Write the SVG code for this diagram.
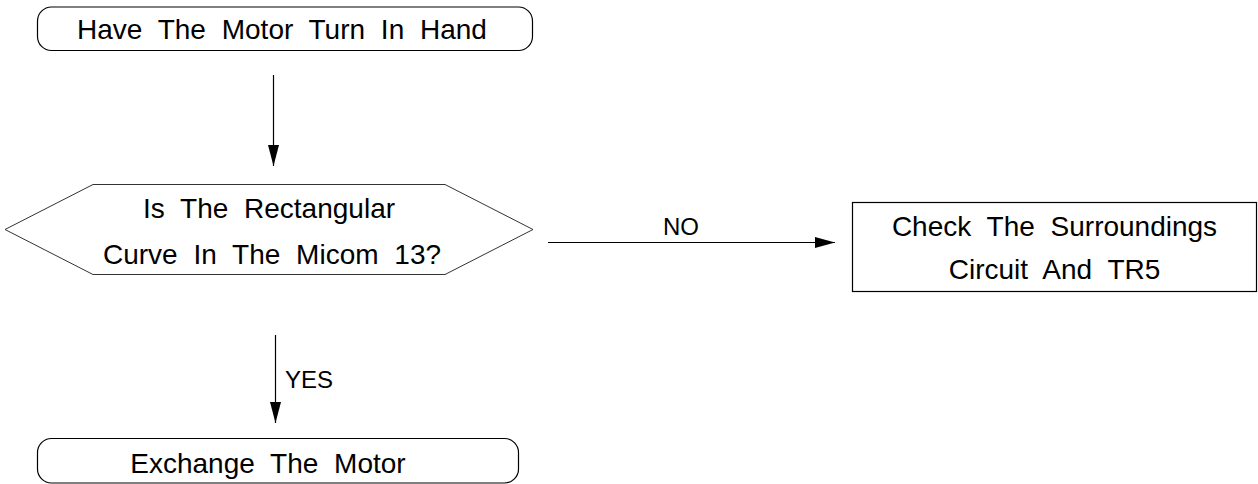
<svg xmlns="http://www.w3.org/2000/svg" width="1258" height="484" viewBox="0 0 1258 484">
<defs>
<style>
.shape{fill:#fff;stroke:#000;stroke-width:1.2}
.hex{fill:#fff;stroke:#333;stroke-width:1}
.t{font-family:"Liberation Sans",Arial,sans-serif;font-size:28px;fill:#000;text-anchor:middle;word-spacing:8px}
.lbl{font-family:"Liberation Sans",Arial,sans-serif;font-size:24px;fill:#000}
.line{stroke:#000;stroke-width:1.2;fill:none}
</style>
<marker id="arrH" viewBox="0 0 20 11" refX="20" refY="5.5" markerWidth="20" markerHeight="11" markerUnits="userSpaceOnUse" orient="auto">
<path d="M0,0 L20,5.5 L0,11 Z" fill="#000"/>
</marker>
<marker id="arrV" viewBox="0 0 21 11" refX="21" refY="5.5" markerWidth="21" markerHeight="11" markerUnits="userSpaceOnUse" orient="auto">
<path d="M0,0 L21,5.5 L0,11 Z" fill="#000"/>
</marker>
</defs>
<rect width="1258" height="484" fill="#fff"/>
<g id="start">
<rect class="shape" x="37.5" y="7" width="495" height="43.5" rx="14"/>
<text class="t" x="282" y="39">Have The Motor Turn In Hand</text>
</g>
<g id="decision">
<polygon class="hex" points="5,229.5 93,184.5 445,184.5 533,229.5 445,274.5 93,274.5"/>
<text class="t" x="269" y="218">Is The Rectangular</text>
<text class="t" x="272" y="264">Curve In The Micom 13?</text>
</g>
<g id="check">
<rect class="shape" x="852.5" y="202.5" width="404" height="89"/>
<text class="t" x="1054.5" y="236">Check The Surroundings</text>
<text class="t" x="1054.5" y="279">Circuit And TR5</text>
</g>
<g id="exchange">
<rect class="shape" x="37.5" y="438.5" width="481" height="44.5" rx="14"/>
<text class="t" x="268" y="473">Exchange The Motor</text>
</g>
<g id="connectors">
<line class="line" x1="273.5" y1="75" x2="273.5" y2="166" marker-end="url(#arrV)"/>
<line class="line" x1="548" y1="242.5" x2="835" y2="242.5" marker-end="url(#arrH)"/>
<line class="line" x1="275.5" y1="335" x2="275.5" y2="423" marker-end="url(#arrV)"/>
<text class="lbl" x="681" y="235" text-anchor="middle">NO</text>
<text class="lbl" x="285" y="388">YES</text>
</g>
</svg>
